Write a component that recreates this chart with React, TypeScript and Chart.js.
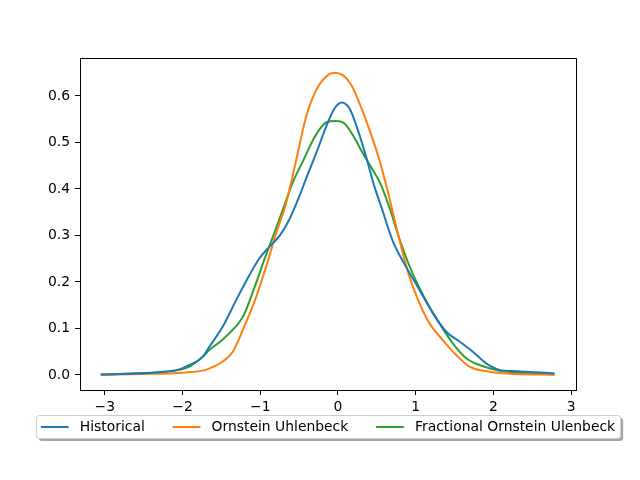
import React, { useEffect, useRef } from "react";
import { Chart, registerables } from "chart.js";

Chart.register(...registerables);

const seriesNames = ["Historical", "Ornstein Uhlenbeck", "Fractional Ornstein Ulenbeck"];
const seriesColors = ["#1f77b4", "#ff7f0e", "#2ca02c"];

const xHist = [-3.05, -2.6, -2.3, -2.04, -1.91, -1.74, -1.653, -1.482, -1.31, -1.138, -1.01, -0.881, -0.752, -0.624, -0.495, -0.409, -0.28, -0.152, -0.045, 0.049, 0.148, 0.255, 0.362, 0.469, 0.556, 0.705, 0.85, 1.048, 1.219, 1.392, 1.563, 1.734, 1.906, 2.077, 2.3, 2.55, 2.785];
const yHist = [0.001, 0.003, 0.006, 0.012, 0.0215, 0.039, 0.061, 0.104, 0.161, 0.215, 0.251, 0.276, 0.299, 0.335, 0.385, 0.423, 0.477, 0.534, 0.573, 0.586, 0.573, 0.527, 0.469, 0.405, 0.362, 0.288, 0.24, 0.183, 0.133, 0.093, 0.072, 0.05, 0.025, 0.011, 0.008, 0.006, 0.003];

const xOU = [-3.05, -2.5, -2.0, -1.7, -1.482, -1.353, -1.224, -1.052, -0.924, -0.795, -0.666, -0.538, -0.409, -0.28, -0.152, -0.045, 0.062, 0.17, 0.277, 0.405, 0.534, 0.662, 0.791, 0.92, 1.048, 1.177, 1.348, 1.52, 1.691, 1.949, 2.3, 2.785];
const yOU = [0.0005, 0.002, 0.005, 0.011, 0.029, 0.05, 0.097, 0.168, 0.233, 0.305, 0.37, 0.462, 0.556, 0.613, 0.642, 0.65, 0.645, 0.624, 0.584, 0.527, 0.462, 0.38, 0.29, 0.211, 0.154, 0.111, 0.075, 0.043, 0.018, 0.007, 0.002, 0.0005];

const xFOU = [-3.05, -2.5, -2.04, -1.91, -1.74, -1.653, -1.52, -1.396, -1.224, -1.07, -0.95, -0.82, -0.7, -0.58, -0.45, -0.3, -0.152, -0.023, 0.084, 0.19, 0.319, 0.448, 0.55, 0.67, 0.79, 0.93, 1.1, 1.305, 1.477, 1.649, 1.82, 2.077, 2.4, 2.785];
const yFOU = [0.001, 0.004, 0.011, 0.018, 0.039, 0.054, 0.071, 0.09, 0.125, 0.19, 0.247, 0.305, 0.36, 0.415, 0.46, 0.512, 0.543, 0.546, 0.541, 0.516, 0.477, 0.441, 0.41, 0.356, 0.293, 0.23, 0.17, 0.111, 0.068, 0.036, 0.0215, 0.009, 0.004, 0.001];

const xTicks = [-3, -2, -1, 0, 1, 2, 3];
const yTicks = [0.0, 0.1, 0.2, 0.3, 0.4, 0.5, 0.6];

const FONT = "DejaVu Sans";
const FS = 13.9;

const framePlugin = {
  id: "frame",
  afterDraw(chart: any) {
    const { ctx, chartArea } = chart;
    const { left, right, top, bottom } = chartArea;
    ctx.save();
    ctx.strokeStyle = "#000";
    ctx.lineWidth = 1;
    ctx.beginPath();
    ctx.moveTo(left, top + 0.5);
    ctx.lineTo(right + 0.5, top + 0.5);
    ctx.lineTo(right + 0.5, bottom);
    ctx.stroke();
    ctx.restore();

    // legend
    const datasets = chart.data.datasets;
    ctx.save();
    ctx.font = `${FS}px "${FONT}"`;
    const handle = 2 * FS;
    const textPad = 0.8 * FS;
    const colSp = 2 * FS;
    const pad = 5;
    const widths = datasets.map((d: any) => ctx.measureText(d.label).width);
    let inner = 0;
    widths.forEach((w: number, i: number) => {
      inner += handle + textPad + w;
      if (i < widths.length - 1) inner += colSp;
    });
    const boxW = inner + 2 * pad;
    const boxH = 23;
    const cx = (left + right) / 2;
    const bx = cx - boxW / 2;
    const by = 415;
    const r = 3;
    const rr = (x: number, y: number, w: number, h: number) => {
      ctx.beginPath();
      ctx.moveTo(x + r, y);
      ctx.lineTo(x + w - r, y);
      ctx.quadraticCurveTo(x + w, y, x + w, y + r);
      ctx.lineTo(x + w, y + h - r);
      ctx.quadraticCurveTo(x + w, y + h, x + w - r, y + h);
      ctx.lineTo(x + r, y + h);
      ctx.quadraticCurveTo(x, y + h, x, y + h - r);
      ctx.lineTo(x, y + r);
      ctx.quadraticCurveTo(x, y, x + r, y);
      ctx.closePath();
    };
    rr(bx + 3, by + 3, boxW, boxH);
    ctx.fillStyle = "rgba(77,77,77,0.5)";
    ctx.fill();
    rr(bx + 0.5, by + 0.5, boxW, boxH);
    ctx.fillStyle = "#ffffff";
    ctx.fill();
    ctx.strokeStyle = "#cccccc";
    ctx.lineWidth = 1;
    ctx.stroke();

    let x = bx + pad;
    const cy = by + boxH / 2 + 0.5;
    datasets.forEach((d: any, i: number) => {
      ctx.strokeStyle = d.borderColor;
      ctx.lineWidth = 2;
      ctx.beginPath();
      ctx.moveTo(x, cy);
      ctx.lineTo(x + handle, cy);
      ctx.stroke();
      x += handle + textPad;
      ctx.fillStyle = "#000";
      ctx.textBaseline = "middle";
      ctx.textAlign = "left";
      ctx.fillText(d.label, x, cy);
      x += widths[i] + colSp;
    });
    ctx.restore();
  },
};

export default function App() {
  const ref = useRef<HTMLCanvasElement>(null);
  useEffect(() => {
    if (!ref.current) return;
    const xs = [xHist, xOU, xFOU];
    const ys = [yHist, yOU, yFOU];
    const chart = new Chart(ref.current, {
      type: "line",
      data: {
        datasets: seriesNames.map((name, i) => ({
          label: name,
          data: xs[i].map((x, j) => ({ x, y: ys[i][j] })),
          borderColor: seriesColors[i],
          backgroundColor: seriesColors[i],
          borderWidth: 2,
          pointRadius: 0,
          fill: false,
          cubicInterpolationMode: "monotone" as const,
        })),
      },
      options: {
        responsive: false,
        animation: false,
        devicePixelRatio: 1,
        layout: { padding: { top: 58, right: 64, left: 0, bottom: 0 } },
        plugins: { legend: { display: false }, tooltip: { enabled: false } },
        scales: {
          x: {
            type: "linear",
            position: "bottom",
            min: -3.318,
            max: 3.061,
            afterBuildTicks: (s: any) => {
              s.ticks = xTicks.map((v) => ({ value: v }));
            },
            afterFit: (s: any) => {
              s.height = 90;
            },
            grid: { drawOnChartArea: false, drawTicks: true, tickLength: 5, color: "#000" },
            border: { display: true, color: "#000", width: 1 },
            ticks: {
              color: "#000",
              padding: 4,
              maxRotation: 0,
              font: { family: FONT, size: FS },
              callback: (v: any) => (v < 0 ? "\u2212" + Math.abs(v) : String(v)),
            },
          },
          y: {
            type: "linear",
            min: -0.0323,
            max: 0.6817,
            afterBuildTicks: (s: any) => {
              s.ticks = yTicks.map((v) => ({ value: v }));
            },
            afterFit: (s: any) => {
              s.width = 80;
            },
            grid: { drawOnChartArea: false, drawTicks: true, tickLength: 5, color: "#000" },
            border: { display: true, color: "#000", width: 1 },
            ticks: {
              color: "#000",
              padding: 5,
              font: { family: FONT, size: FS },
              callback: (v: any) => Number(v).toFixed(1),
            },
          },
        },
      },
      plugins: [framePlugin],
    });
    return () => chart.destroy();
  }, []);
  return (
    <div style={{ position: "absolute", left: 0, top: 0, width: 640, height: 480, background: "#fff" }}>
      <canvas ref={ref} width={640} height={480} style={{ display: "block" }} />
    </div>
  );
}
